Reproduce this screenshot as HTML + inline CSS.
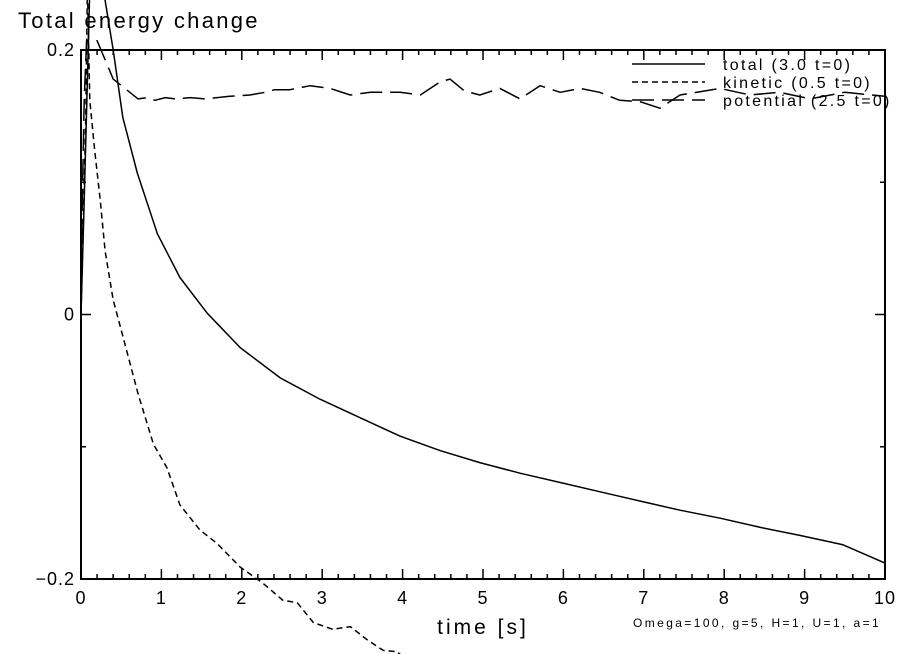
<!DOCTYPE html>
<html><head><meta charset="utf-8"><style>
html,body{margin:0;padding:0;background:#fff;}
svg{display:block;font-family:"Liberation Sans",sans-serif;}
</style></head><body>
<svg id="chart" width="904" height="654" viewBox="0 0 904 654">
<text x="18" y="28" font-size="22" letter-spacing="2.3">Total energy change</text>
<rect x="81" y="50" width="804" height="529" fill="none" stroke="#000" stroke-width="2"/>
<g id="ticks"></g>
<g id="series"></g>
<g font-size="16" letter-spacing="2.3">
<line x1="632" y1="64" x2="705" y2="64" stroke="#000" stroke-width="1.5"/>
<text x="723" y="70">total (3.0 t=0)</text>
<line x1="632" y1="82" x2="705" y2="82" stroke="#000" stroke-width="1.5" stroke-dasharray="6,4"/>
<text x="723" y="88">kinetic (0.5 t=0)</text>
<line x1="632" y1="100" x2="705" y2="100" stroke="#000" stroke-width="1.5" stroke-dasharray="22,8"/>
<text x="723" y="106">potential (2.5 t=0)</text>
</g>
<text x="483" y="634" font-size="21" letter-spacing="3" text-anchor="middle">time [s]</text>
<text x="633" y="627" font-size="12" letter-spacing="2.4">Omega=100, g=5, H=1, U=1, a=1</text>
</svg>
<script>
const xTicks=[0,1,2,3,4,5,6,7,8,9,10];
const yTicks=[0.2,0,-0.2];
const yTickLabels=["0.2","0","\u22120.2"];
const tTotal=[0,0.04,0.09,0.12,0.3,0.4,0.52,0.7,0.95,1.23,1.57,1.98,2.48,2.97,3.47,3.97,4.47,4.96,5.46,5.96,6.45,6.95,7.45,7.95,8.45,8.94,9.47,10];
const vTotal=[0,0.086,0.2,0.27,0.2375,0.2,0.149,0.107,0.061,0.028,0.001,-0.025,-0.048,-0.064,-0.078,-0.092,-0.103,-0.112,-0.12,-0.127,-0.134,-0.141,-0.148,-0.154,-0.161,-0.167,-0.174,-0.188];
const tKin=[0,0.06,0.08,0.11,0.17,0.24,0.3,0.4,0.51,0.71,0.9,1.07,1.23,1.48,1.69,1.98,2.26,2.51,2.69,2.89,3.13,3.35,3.56,3.76,3.93,3.97];
const vKin=[0,0.15,0.25,0.162,0.124,0.086,0.048,0.011,-0.014,-0.06,-0.098,-0.116,-0.144,-0.163,-0.173,-0.191,-0.203,-0.216,-0.218,-0.233,-0.238,-0.236,-0.246,-0.254,-0.255,-0.257];
const tPot=[0,0.04,0.07,0.2,0.36,0.4,0.71,0.83,0.92,1.05,1.17,1.36,1.54,1.85,2.1,2.29,2.41,2.6,2.85,3.1,3.35,3.6,3.97,4.22,4.47,4.59,4.77,4.96,5.21,5.46,5.71,5.96,6.21,6.45,6.7,6.95,7.2,7.45,7.95,8.32,8.69,9.07,9.5,10];
const vPot=[0.033,0.162,0.207,0.207,0.184,0.178,0.163,0.164,0.162,0.164,0.163,0.164,0.163,0.165,0.166,0.168,0.170,0.170,0.173,0.171,0.166,0.168,0.168,0.166,0.176,0.178,0.169,0.166,0.171,0.163,0.173,0.168,0.171,0.168,0.162,0.161,0.156,0.166,0.171,0.166,0.168,0.163,0.168,0.165];
const X0=81,X1=885,Y0=579,Y1=50,VMIN=-0.2,VMAX=0.2;
function sx(t){return X0+(t-0)/(10-0)*(X1-X0);}
function sy(v){return Y0-(v-VMIN)/(VMAX-VMIN)*(Y0-Y1);}
const NS="http://www.w3.org/2000/svg";
const tk=document.getElementById('ticks');
function ln(x1,y1,x2,y2,name){const l=document.createElementNS(NS,'line');l.setAttribute('x1',x1);l.setAttribute('y1',y1);l.setAttribute('x2',x2);l.setAttribute('y2',y2);l.setAttribute('stroke','#000');l.setAttribute('stroke-width','1.5');


tk.appendChild(l);}
function txt(x,y,s,anchor,name){const e=document.createElementNS(NS,'text');e.setAttribute('x',x);e.setAttribute('y',y);e.setAttribute('font-size','18');e.setAttribute('letter-spacing','1');e.setAttribute('text-anchor',anchor);e.textContent=s;


tk.appendChild(e);}
for(let i=0;i<=50;i++){const t=i*0.2;const x=sx(t);const major=i%5===0;const len=major?10:5;
ln(x,Y0,x,Y0-len,'x-tick');ln(x,Y1,x,Y1+len,'x-tick-top');}
xTicks.forEach(t=>txt(sx(t),604,String(t),'middle','x-tick-label'));
[0.2,0.1,0,-0.1,-0.2].forEach(v=>{const y=sy(v);const major=Math.abs(v*10)%2<0.01;const len=major?10:5;
ln(X0,y,X0+len,y,'y-tick');ln(X1,y,X1-len,y,'y-tick-right');});
yTicks.forEach((v,i)=>txt(75,sy(v)+6,yTickLabels[i],'end','y-tick-label'));
const sg=document.getElementById('series');
function path(ts,vs,dash,name){const p=document.createElementNS(NS,'path');let d='';ts.forEach((t,i)=>{d+=(i?'L':'M')+sx(t).toFixed(1)+','+sy(vs[i]).toFixed(1);});
p.setAttribute('d',d);p.setAttribute('fill','none');p.setAttribute('stroke','#000');p.setAttribute('stroke-width','1.5');p.setAttribute('stroke-linejoin','round');if(dash)p.setAttribute('stroke-dasharray',dash);


sg.appendChild(p);}
path(tTotal,vTotal,null,'total-line');
path(tKin,vKin,'6,4','kinetic-line');
path(tPot,vPot,'22,8','potential-line');
</script>
</body></html>
